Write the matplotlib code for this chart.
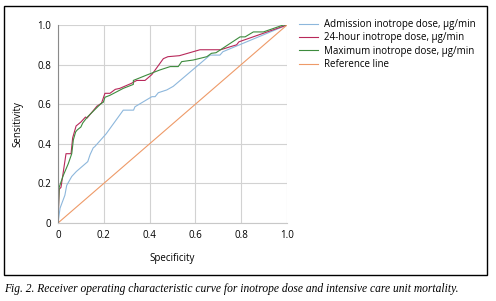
import numpy as np
import matplotlib.pyplot as plt
from matplotlib.patches import Rectangle

# ROC curves (1 - specificity on x as drawn, labelled "Specificity")
admission_x = [0, 0.009, 0.03, 0.038, 0.06, 0.08, 0.13, 0.14, 0.154, 0.16, 0.21, 0.285, 0.33, 0.336,
               0.41, 0.424, 0.438, 0.475, 0.503, 0.664, 0.707, 0.72, 1.0]
admission_y = [0, 0.075, 0.14, 0.19, 0.235, 0.26, 0.31, 0.345, 0.38, 0.385, 0.45, 0.57, 0.57, 0.587,
               0.638, 0.638, 0.658, 0.672, 0.69, 0.848, 0.848, 0.865, 1.0]

hour24_x = [0, 0.005, 0.013, 0.035, 0.057, 0.064, 0.079, 0.10, 0.12, 0.127, 0.17, 0.19, 0.205, 0.227,
            0.25, 0.27, 0.32, 0.344, 0.38, 0.41, 0.46, 0.48, 0.53, 0.56, 0.62, 0.68, 0.71, 0.78, 0.79, 1.0]
hour24_y = [0, 0.17, 0.18, 0.35, 0.35, 0.43, 0.49, 0.51, 0.535, 0.53, 0.59, 0.605, 0.655, 0.655,
            0.675, 0.68, 0.705, 0.72, 0.72, 0.75, 0.83, 0.84, 0.845, 0.855, 0.875, 0.875, 0.875, 0.90, 0.915, 1.0]

maximum_x = [0, 0.005, 0.023, 0.045, 0.06, 0.067, 0.077, 0.084, 0.10, 0.108, 0.128, 0.176, 0.19, 0.198,
             0.205, 0.227, 0.285, 0.329, 0.329, 0.387, 0.445, 0.49, 0.525, 0.54, 0.59, 0.65, 0.67, 0.69,
             0.795, 0.817, 0.853, 0.897, 0.984, 1.0]
maximum_y = [0, 0.18, 0.24, 0.30, 0.35, 0.42, 0.46, 0.47, 0.485, 0.505, 0.535, 0.59, 0.605, 0.61,
             0.635, 0.645, 0.68, 0.70, 0.72, 0.747, 0.773, 0.79, 0.79, 0.815, 0.823, 0.84, 0.857, 0.86,
             0.94, 0.94, 0.965, 0.965, 1.0, 1.0]

reference_x = [0, 1]
reference_y = [0, 1]

ticks = [0, 0.2, 0.4, 0.6, 0.8, 1.0]
tick_labels = ['0', '0.2', '0.4', '0.6', '0.8', '1.0']

series = [
    ('Admission inotrope dose, µg/min', admission_x, admission_y, '#8db7dc'),
    ('24-hour inotrope dose, µg/min', hour24_x, hour24_y, '#b8285a'),
    ('Maximum inotrope dose, µg/min', maximum_x, maximum_y, '#3d8b3d'),
    ('Reference line', reference_x, reference_y, '#ee9a68'),
]

plt.rcParams['font.family'] = ['Open Sans', 'DejaVu Sans']

fig = plt.figure(figsize=(4.96, 3.01), dpi=100)
ax = fig.add_axes([58 / 496, 1 - 223 / 301, 229 / 496, 198 / 301])

for label, x, y, c in series:
    ax.plot(x, y, color=c, lw=0.8, label=label)

ax.set_xlim(0, 1)
ax.set_ylim(0, 1)
ax.set_xticks(ticks)
ax.set_xticklabels(tick_labels)
ax.set_yticks(ticks)
ax.set_yticklabels(tick_labels)
ax.tick_params(length=0, labelsize=7, pad=5)
ax.grid(color='#d2d2d2', lw=0.8)
ax.set_axisbelow(True)
for s in ['top', 'right']:
    ax.spines[s].set_visible(False)
ax.spines['left'].set_color('#8a8a8a')
ax.spines['bottom'].set_color('#c8c8c8')
ax.set_xlabel('Specificity', fontsize=7, labelpad=9)
ax.set_ylabel('Sensitivity', fontsize=7, labelpad=10)

fig.legend(loc='upper left', bbox_to_anchor=(299 / 496, 1 - 19 / 301), frameon=False,
           fontsize=7, handlelength=2.0, handletextpad=0.6, labelspacing=0.25,
           borderpad=0, borderaxespad=0)

fig.patches.append(Rectangle((4 / 496, 1 - 275 / 301), 483 / 496, 269 / 301,
                             transform=fig.transFigure, fill=False, ec='black', lw=1))

fig.text(4 / 496, 1 - 289 / 301,
         'Fig. 2. Receiver operating characteristic curve for inotrope dose and intensive care unit mortality.',
         fontsize=8.3, style='italic', family='Liberation Serif', va='center', ha='left')

fig.savefig('out.png', dpi=100)
